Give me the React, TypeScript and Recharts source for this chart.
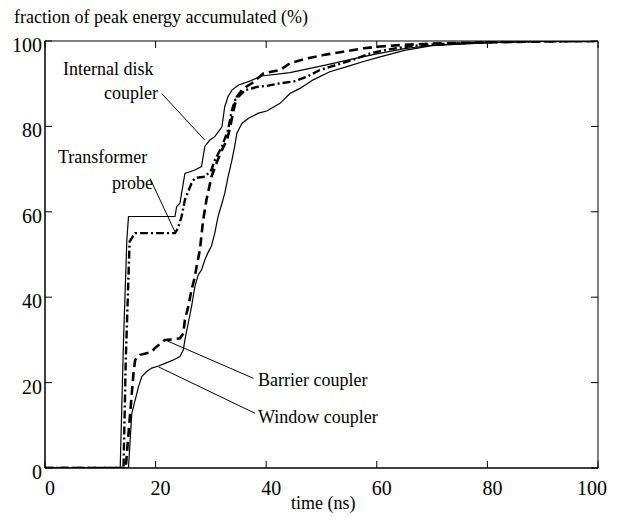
import React from "react";
import { LineChart, Line, XAxis, YAxis, ReferenceLine } from "recharts";

// time (ns) / accumulated fraction (%), one pair of arrays per probe
const internalT = [0, 13.6, 14.2, 14.8, 15.1, 23.5, 23.8, 24.4, 24.7, 25.3, 27.1, 28.3, 28.9, 29.8, 30.7, 32.0, 32.5, 33.1, 33.8, 35.0, 36.8, 39.2, 44.3, 50.9, 55.7, 60.0, 65, 70, 80, 90, 100];
const internalV = [0, 0, 30, 53.4, 58.9, 58.9, 61.2, 62, 64.3, 69, 69.8, 70.6, 75.3, 76.8, 77.6, 79.9, 84.6, 87, 88.5, 89.7, 90.5, 91.8, 92.6, 94.4, 95.8, 97.0, 98.2, 99.0, 99.6, 99.9, 100];

const transformerT = [0, 14.2, 14.6, 15.3, 16.0, 16.3, 23.5, 24.0, 24.7, 25.3, 26.5, 27.1, 28.9, 30.1, 30.7, 32.0, 33.1, 33.8, 34.4, 36.2, 38.5, 40.1, 42.5, 44.9, 47.3, 49.7, 52.7, 55.7, 58.8, 62, 66, 70, 80, 90, 100];
const transformerV = [0, 0, 25, 53, 54.5, 55, 55, 56, 58.9, 62.8, 66.7, 67.9, 68.2, 69.8, 72.1, 75.3, 79.2, 83.8, 86.2, 88.5, 89.3, 89.5, 90.1, 90.5, 91.6, 93.2, 94.4, 95.6, 97.1, 98.0, 98.8, 99.2, 99.7, 99.9, 100];

const barrierT = [0, 14.6, 15.4, 16.0, 16.3, 17.2, 18.4, 19.3, 19.9, 21.7, 22.9, 24.4, 25.0, 25.3, 25.9, 26.5, 27.1, 27.4, 28.0, 28.6, 29.2, 30.1, 31.0, 32.0, 32.9, 33.5, 34.1, 34.7, 35.9, 37.4, 39.5, 42.5, 44.3, 47.3, 50.3, 53.9, 57.6, 60.6, 65, 70, 80, 90, 100];
const barrierV = [0, 0, 12.8, 22.2, 25.3, 26.5, 26.9, 27.2, 28.1, 30, 30.1, 30.4, 31.5, 34.7, 37.8, 41.7, 44.8, 47.1, 51, 58.1, 62.8, 68.2, 71.4, 74.5, 76.8, 79.9, 83.8, 87, 88.9, 90.1, 92.4, 93.2, 94.8, 95.9, 96.7, 97.5, 98.3, 98.7, 99.1, 99.4, 99.7, 99.9, 100];

const windowT = [0, 15.1, 15.4, 15.7, 16.3, 16.9, 17.5, 18.4, 19.3, 20.5, 21.7, 23.2, 24.4, 25.0, 25.3, 25.9, 26.5, 27.1, 27.7, 28.3, 28.9, 29.5, 30.1, 30.7, 31.3, 32.0, 32.5, 33.1, 33.8, 34.4, 34.7, 35.6, 36.8, 38.6, 40.1, 42.5, 44.3, 46.1, 48.5, 51.5, 54.6, 57.6, 60.6, 65, 70, 80, 90, 100];
const windowV = [0, 0, 6.6, 12.8, 15.9, 19, 21.4, 22.6, 23.4, 23.9, 24.5, 25.3, 26.1, 27.6, 30, 33.9, 37.8, 42.5, 45.2, 46.4, 48.7, 50.5, 52, 55, 58.9, 62, 64.3, 68.2, 72.1, 76, 78.4, 80.7, 81.9, 83.1, 83.6, 85.4, 87.7, 88.9, 90.9, 92.8, 94, 95.2, 96.3, 97.8, 98.9, 99.6, 99.9, 100];

const xTicks = [0, 20, 40, 60, 80, 100];
const yTicks = [0, 20, 40, 60, 80, 100];

const zip = (ts: number[], vs: number[]) => ts.map((t, i) => ({ t, v: vs[i] }));

const internalData = zip(internalT, internalV);
const transformerData = zip(transformerT, transformerV);
const barrierData = zip(barrierT, barrierV);
const windowData = zip(windowT, windowV);

const FONT = "'Liberation Serif', 'Times New Roman', serif";
const TICK_LEN = 7;

const BottomTick = ({ x, y, payload }: any) => (
  <g>
    <line x1={x} y1={y} x2={x} y2={y - TICK_LEN} stroke="#000" />
    <text x={x + (payload.value === 100 ? -6 : 5)} y={y + 27} textAnchor="middle" fontFamily={FONT} fontSize={20} fill="#000">
      {payload.value}
    </text>
  </g>
);
const TopTick = ({ x, y }: any) => <line x1={x} y1={y} x2={x} y2={y + TICK_LEN} stroke="#000" />;
const LeftTick = ({ x, y, payload }: any) => (
  <g>
    <line x1={x} y1={y} x2={x + TICK_LEN} y2={y} stroke="#000" />
    <text x={x - 3} y={y + 11} textAnchor="end" fontFamily={FONT} fontSize={20} fill="#000">
      {payload.value}
    </text>
  </g>
);
const RightTick = ({ x, y }: any) => <line x1={x} y1={y} x2={x - TICK_LEN} y2={y} stroke="#000" />;

const txt = (left: number, top: number, s: string, align: "left" | "right" = "left") => (
  <div
    style={{
      position: "absolute",
      left: align === "left" ? left : undefined,
      right: align === "right" ? 620 - left : undefined,
      top,
      fontFamily: FONT,
      fontSize: 18,
      lineHeight: "20px",
      color: "#000",
      whiteSpace: "nowrap",
    }}
  >
    {s}
  </div>
);

export default function App() {
  return (
    <div style={{ position: "relative", width: 620, height: 521, margin: -8, background: "#fff", overflow: "hidden" }}>
      <LineChart width={620} height={521} data={windowData} margin={{ top: 1, right: 2, bottom: 3, left: 5 }}>
        <XAxis xAxisId="b" dataKey="t" type="number" domain={[0, 100]} ticks={xTicks} height={50}
          axisLine={{ stroke: "#000", strokeWidth: 1.5 }} tickLine={false} tickSize={0} tickMargin={0} tick={<BottomTick />} allowDataOverflow />
        <XAxis xAxisId="t" orientation="top" dataKey="t" type="number" domain={[0, 100]} ticks={xTicks} height={40}
          axisLine={{ stroke: "#000" }} tickLine={false} tickSize={0} tickMargin={0} tick={<TopTick />} allowDataOverflow />
        <YAxis yAxisId="l" type="number" domain={[0, 100]} ticks={yTicks} width={40}
          axisLine={{ stroke: "#000", strokeWidth: 1.5 }} tickLine={false} tickSize={0} tickMargin={0} tick={<LeftTick />} allowDataOverflow />
        <YAxis yAxisId="r" orientation="right" type="number" domain={[0, 100]} ticks={yTicks} width={20}
          axisLine={{ stroke: "#000" }} tickLine={false} tickSize={0} tickMargin={0} tick={<RightTick />} allowDataOverflow />

        <Line xAxisId="b" yAxisId="l" data={internalData} dataKey="v" type="linear" stroke="#000" strokeWidth={1.2} dot={false} isAnimationActive={false} />
        <Line xAxisId="b" yAxisId="l" data={windowData} dataKey="v" type="linear" stroke="#000" strokeWidth={1.2} dot={false} isAnimationActive={false} />
        <Line xAxisId="b" yAxisId="l" data={barrierData} dataKey="v" type="linear" stroke="#000" strokeWidth={2.6} strokeDasharray="9 5" dot={false} isAnimationActive={false} />
        <Line xAxisId="b" yAxisId="l" data={transformerData} dataKey="v" type="linear" stroke="#000" strokeWidth={2.4} strokeDasharray="8 3 2 3" dot={false} isAnimationActive={false} />

        {/* leader lines for the annotations */}
        <ReferenceLine xAxisId="b" yAxisId="l" segment={[{ x: 21.1, y: 87.7 }, { x: 28.9, y: 76.8 }]} stroke="#000" />
        <ReferenceLine xAxisId="b" yAxisId="l" segment={[{ x: 19.0, y: 67.8 }, { x: 23.5, y: 55.3 }]} stroke="#000" />
        <ReferenceLine xAxisId="b" yAxisId="l" segment={[{ x: 21.7, y: 30 }, { x: 37.7, y: 21 }]} stroke="#000" />
        <ReferenceLine xAxisId="b" yAxisId="l" segment={[{ x: 20.5, y: 23.7 }, { x: 38.0, y: 12.8 }]} stroke="#000" />
      </LineChart>

      {txt(14, 7, "fraction of peak energy accumulated (%)")}
      {txt(291, 493, "time (ns)")}
      {txt(63, 59, "Internal disk")}
      {txt(158, 83, "coupler", "right")}
      {txt(58, 147, "Transformer")}
      {txt(153, 173, "probe", "right")}
      {txt(258, 370, "Barrier coupler")}
      {txt(258, 407, "Window coupler")}
    </div>
  );
}
